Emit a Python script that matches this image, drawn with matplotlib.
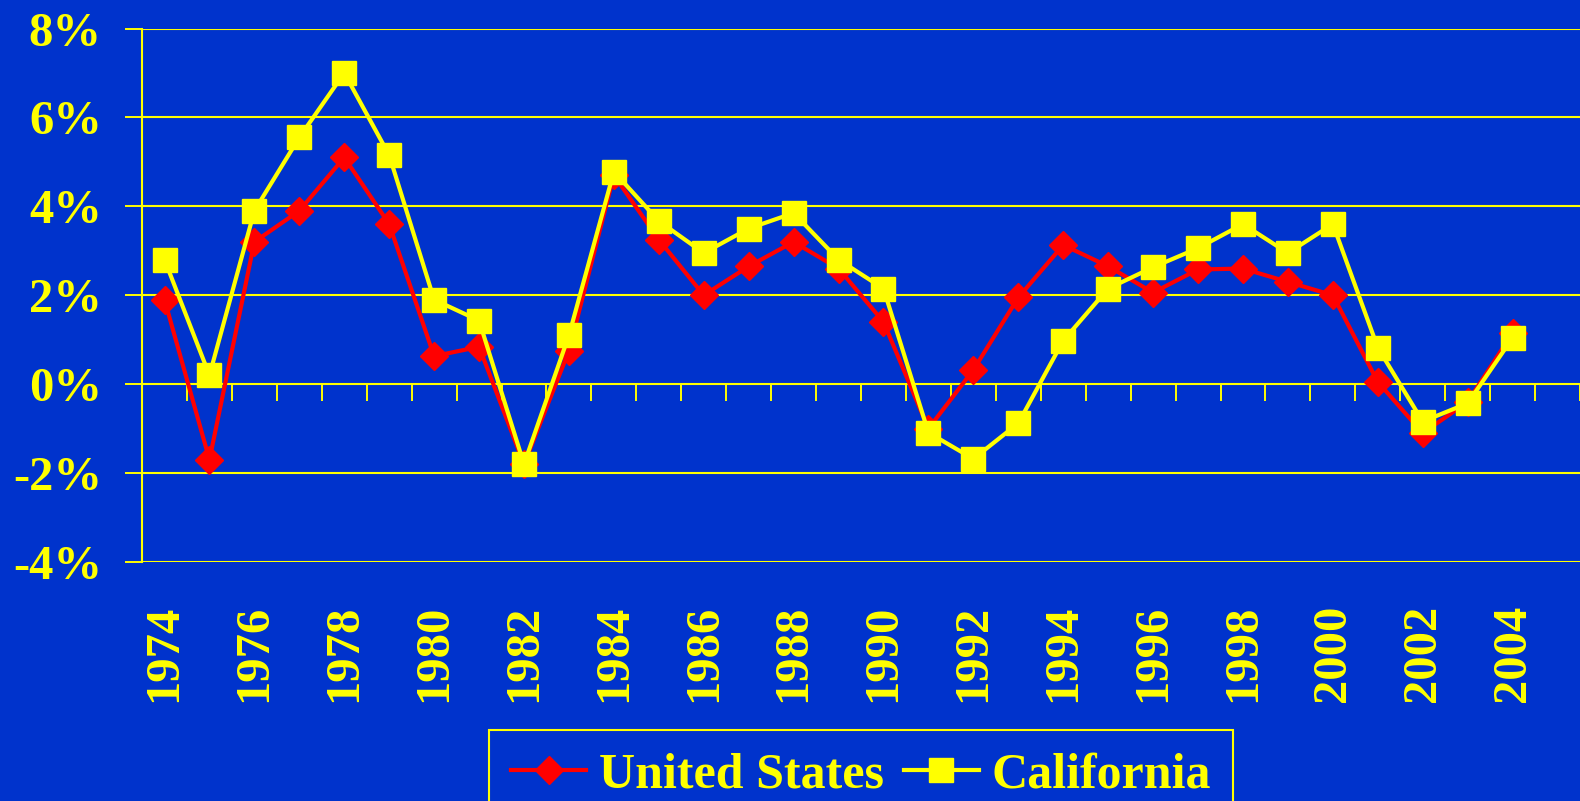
import matplotlib.pyplot as plt
import numpy as np

# Annual growth, 1974-2004 (%)
years = list(range(1974, 2005))
us_growth = [1.9, -1.7, 3.2, 3.9, 5.1, 3.6, 0.63, 0.84, -1.8, 0.75,
             4.7, 3.25, 2.0, 2.65, 3.2, 2.6, 1.4, -1.0, 0.32, 1.95,
             3.13, 2.65, 2.06, 2.58, 2.6, 2.3, 2.0, 0.05, -1.1, -0.4, 1.15]
ca_growth = [2.8, 0.2, 3.9, 5.55, 7.0, 5.15, 1.9, 1.43, -1.8, 1.1,
             4.78, 3.67, 2.95, 3.5, 3.85, 2.8, 2.15, -1.09, -1.68, -0.88,
             0.98, 2.15, 2.63, 3.06, 3.6, 2.95, 3.6, 0.82, -0.84, -0.43, 1.04]
y_ticks = [-4, -2, 0, 2, 4, 6, 8]

BLUE = "#0033CC"
YELLOW = "#FFFF00"
RED = "#FF0000"

plt.rcParams["font.family"] = ["Liberation Serif", "DejaVu Serif"]
plt.rcParams["font.weight"] = "bold"

fig = plt.figure(figsize=(15.8, 8.01), dpi=100, facecolor=BLUE)
ax = fig.add_axes([0.0899, 0.2984, 0.9101, 0.666])
ax.set_facecolor(BLUE)

# one category slot per year plus an empty 2005 slot, points centred in slots
n_slots = len(years) + 1
x = np.arange(len(years)) + 0.5

ax.plot(x, us_growth, color=RED, lw=3, marker="D", ms=14, label="United States", zorder=3)
ax.plot(x, ca_growth, color=YELLOW, lw=3, marker="s", ms=17, label="California", zorder=4)

ax.set_xlim(0, n_slots)
ax.set_ylim(y_ticks[0], y_ticks[-1])

# y axis
ax.set_yticks(y_ticks)
ax.set_yticklabels([f"{v}%" for v in y_ticks])
ax.tick_params(axis="y", colors=YELLOW, length=12, width=1.4, pad=17,
               labelsize=35, labelcolor=YELLOW)
ax.grid(axis="y", color=YELLOW, lw=1.5)
ax.set_axisbelow(True)

# x labels every other year, below the plot
ax.set_xticks(x[::2])
ax.set_xticklabels([str(y) for y in years[::2]], rotation=90, va="top")
ax.tick_params(axis="x", length=0, pad=31, labelsize=35, labelcolor=YELLOW)

# category separators hanging from the zero line
ax.vlines(np.arange(1, n_slots + 1), 0, -0.37, color=YELLOW, lw=1.4, zorder=2)

for side in ["top", "right", "bottom"]:
    ax.spines[side].set_visible(False)
ax.spines["left"].set_color(YELLOW)
ax.spines["left"].set_linewidth(1.5)

leg = ax.legend(loc="upper center", bbox_to_anchor=(0.545, 0.089),
                bbox_transform=fig.transFigure, borderaxespad=0, ncol=2, fontsize=36,
                frameon=True, fancybox=False, facecolor=BLUE, edgecolor=YELLOW,
                handlelength=1.5, handletextpad=0.25, columnspacing=0.4,
                borderpad=0.45, framealpha=1)
leg.get_frame().set_linewidth(1.5)
for t in leg.get_texts():
    t.set_color(YELLOW)

fig.savefig("out.png", dpi=100, facecolor=BLUE)
